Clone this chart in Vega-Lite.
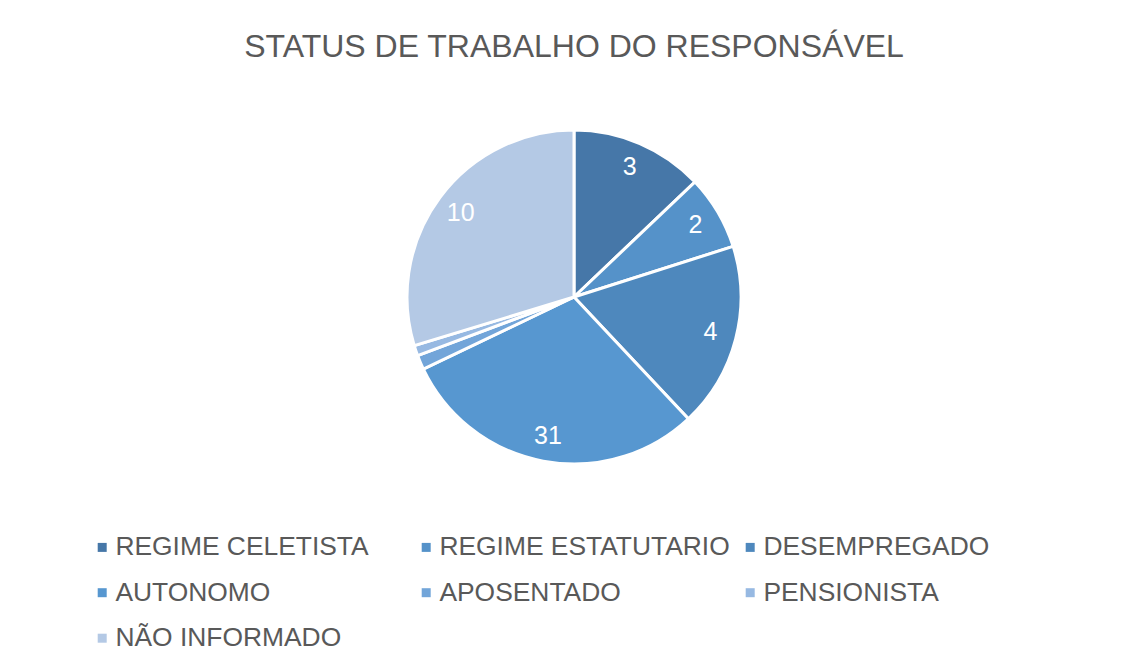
{
  "$schema": "https://vega.github.io/schema/vega-lite/v6.json",
  "autosize": {"type": "none"},
  "width": 1120,
  "height": 434,
  "padding": {"left": 14, "top": 80, "right": 0, "bottom": 149},
  "background": "white",
  "config": {"view": {"stroke": null}},
  "title": {
    "text": "STATUS DE TRABALHO DO RESPONSÁVEL",
    "font": "Liberation Sans",
    "fontSize": 32,
    "fontWeight": "normal",
    "color": "#595959",
    "anchor": "middle",
    "frame": "group",
    "offset": 16
  },
  "data": {
    "values": [
      {"ordem": 1, "categoria": "REGIME CELETISTA", "valor": 12.9, "rotulo": "3"},
      {"ordem": 2, "categoria": "REGIME ESTATUTARIO", "valor": 7.2, "rotulo": "2"},
      {"ordem": 3, "categoria": "DESEMPREGADO", "valor": 17.9, "rotulo": "4"},
      {"ordem": 4, "categoria": "AUTONOMO", "valor": 29.9, "rotulo": "31"},
      {"ordem": 5, "categoria": "APOSENTADO", "valor": 1.4, "rotulo": ""},
      {"ordem": 6, "categoria": "PENSIONISTA", "valor": 1.0, "rotulo": ""},
      {"ordem": 7, "categoria": "NÃO INFORMADO", "valor": 29.7, "rotulo": "10"}
    ]
  },
  "encoding": {
    "theta": {"field": "valor", "type": "quantitative", "stack": true},
    "order": {"field": "ordem", "type": "quantitative", "sort": "ascending"},
    "color": {
      "field": "categoria",
      "type": "nominal",
      "scale": {
        "domain": ["REGIME CELETISTA", "REGIME ESTATUTARIO", "DESEMPREGADO", "AUTONOMO", "APOSENTADO", "PENSIONISTA", "NÃO INFORMADO"],
        "range": ["#4677a8", "#5592c9", "#4e88bd", "#5797d0", "#72a5d9", "#97b9e2", "#b4c9e5"]
      },
      "legend": {
        "title": null,
        "orient": "none",
        "legendX": 75,
        "legendY": 454,
        "columns": 3,
        "direction": "horizontal",
        "gridAlign": "all",
        "columnPadding": 7,
        "rowPadding": 18.5,
        "padding": 0,
        "symbolType": "square",
        "symbolSize": 81,
        "symbolStrokeWidth": 0,
        "labelFont": "Liberation Sans",
        "labelFontSize": 26.4,
        "labelColor": "#595959",
        "labelOffset": 0,
        "labelLimit": 0
      }
    }
  },
  "layer": [
    {
      "mark": {"type": "arc", "outerRadius": 167, "stroke": "white", "strokeWidth": 3}
    },
    {
      "mark": {"type": "text", "radius": 141, "font": "Liberation Sans", "fontSize": 25, "fill": "white", "baseline": "middle", "align": "center"},
      "encoding": {
        "text": {"field": "rotulo"},
        "color": {"value": "white"}
      }
    }
  ]
}
